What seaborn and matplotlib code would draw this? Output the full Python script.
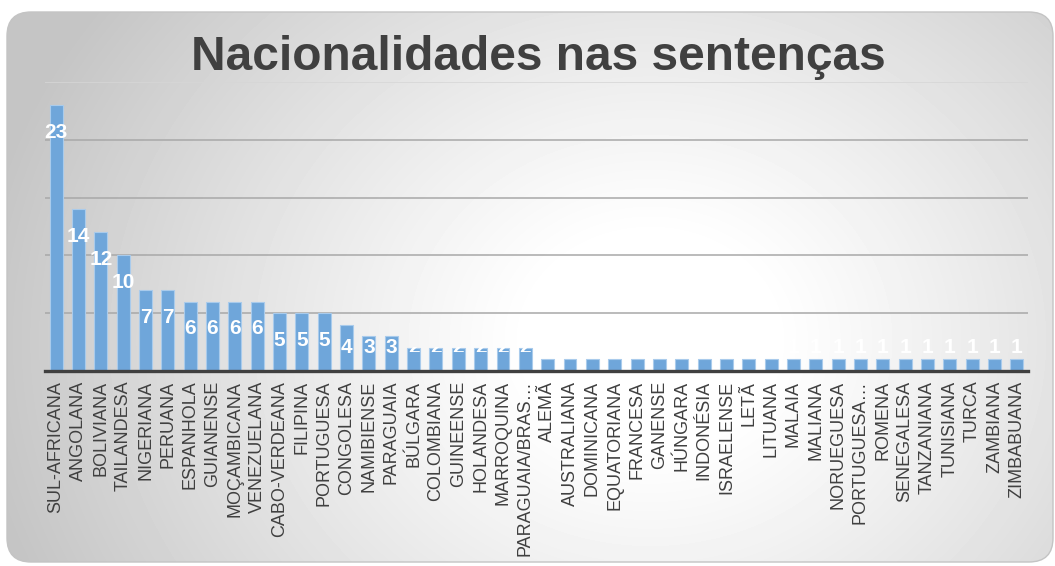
import numpy as np
import pandas as pd
import matplotlib
matplotlib.use('Agg')
import matplotlib.pyplot as plt
import matplotlib.transforms as mtransforms
from matplotlib.patches import FancyBboxPatch
import seaborn as sns

# data
nationalities = ['SUL-AFRICANA', 'ANGOLANA', 'BOLIVIANA', 'TAILANDESA', 'NIGERIANA',
                 'PERUANA', 'ESPANHOLA', 'GUIANENSE', 'MOÇAMBICANA', 'VENEZUELANA',
                 'CABO-VERDEANA', 'FILIPINA', 'PORTUGUESA', 'CONGOLESA', 'NAMIBIENSE',
                 'PARAGUAIA', 'BÚLGARA', 'COLOMBIANA', 'GUINEENSE', 'HOLANDESA',
                 'MARROQUINA', 'PARAGUAIA/BRAS…', 'ALEMÃ', 'AUSTRALIANA', 'DOMINICANA',
                 'EQUATORIANA', 'FRANCESA', 'GANENSE', 'HÚNGARA', 'INDONÉSIA',
                 'ISRAELENSE', 'LETÃ', 'LITUANA', 'MALAIA', 'MALIANA', 'NORUEGUESA',
                 'PORTUGUESA…', 'ROMENA', 'SENEGALESA', 'TANZANIANA', 'TUNISIANA',
                 'TURCA', 'ZAMBIANA', 'ZIMBABUANA']
counts = [23, 14, 12, 10, 7, 7, 6, 6, 6, 6, 5, 5, 5, 4, 3, 3,
          2, 2, 2, 2, 2, 2,
          1, 1, 1, 1, 1, 1, 1, 1, 1, 1, 1, 1, 1, 1, 1, 1, 1, 1, 1, 1, 1, 1]
y_ticks = [5, 10, 15, 20, 25]

df = pd.DataFrame({'nacionalidade': nationalities, 'n': counts})

sns.set_theme(style='white')
plt.rcParams['font.family'] = ['Liberation Sans', 'DejaVu Sans']

W, H = 1055, 566
fig = plt.figure(figsize=(W / 100, H / 100), dpi=100)
fig.patch.set_facecolor('white')

# background card with radial grey gradient
bg = fig.add_axes([0, 0, 1, 1], zorder=-1)
bg.set_xlim(0, W)
bg.set_ylim(H, 0)
bg.axis('off')
xx, yy = np.meshgrid(np.arange(W), np.arange(H))
dist = np.sqrt((xx - 650) ** 2 + ((yy - 340) / 0.85) ** 2)
shade = 1.0 - 0.23 * np.clip((dist - 120) / 560, 0, 1) ** 1.1
img = bg.imshow(shade, cmap='gray', vmin=0, vmax=1, extent=[0, W, H, 0],
                aspect='auto', interpolation='bilinear')
card = FancyBboxPatch((7, 12), 1046, 550, boxstyle='round,pad=0,rounding_size=24',
                      facecolor='none', edgecolor='#c4c4c4', lw=1.0)
bg.add_patch(card)
img.set_clip_path(card)

ax = fig.add_axes([45 / W, 1 - 371 / H, (1028 - 45) / W, (371 - 82) / H])
ax.set_facecolor('none')
sns.barplot(data=df, x='nacionalidade', y='n', color='#6fa6da', width=0.58,
            saturation=1, edgecolor='#a9cbec', linewidth=0.8, ax=ax)

ax.set_xlim(-0.5, len(nationalities) - 0.5)
ax.set_ylim(0, 25)
ax.set_yticks(y_ticks)
ax.set_yticklabels([])
ax.yaxis.grid(True, color='#a8a8a8', lw=1.1)
ax.get_ygridlines()[-1].set_color('#d6d6d6')
ax.set_axisbelow(True)
for s in ['left', 'right', 'top']:
    ax.spines[s].set_visible(False)
ax.spines['bottom'].set_color('#404040')
ax.spines['bottom'].set_linewidth(2.4)
ax.spines['bottom'].set_zorder(5)
ax.set_xlabel('')
ax.set_ylabel('')
ax.tick_params(axis='x', length=0, pad=7, labelsize=13, labelcolor='#404040')
ax.tick_params(axis='y', length=0)
plt.setp(ax.get_xticklabels(), rotation=90, va='top', ha='center')

# data labels (white, inside end; small bars pushed up)
for i, v in enumerate(counts):
    t = ax.annotate(str(v), xy=(i, max(v, 4.4)), xytext=(0, -19.5),
                    textcoords='offset points', ha='center', va='center',
                    color='white', fontsize=15, fontweight='bold', zorder=6)
    if v == 2:
        # these labels only show a sliver at the bar top in the reference
        clip = mtransforms.TransformedBbox(
            mtransforms.Bbox([[i - 0.5, 1.68], [i + 0.5, 2.05]]), ax.transData)
        t.set_clip_box(clip)
        t.set_clip_on(True)

fig.text(538 / W, 1 - 57 / H, 'Nacionalidades nas sentenças', ha='center',
         va='center', fontsize=34.5, fontweight='bold', color='#404040')

plt.savefig('out.png', dpi=100)
plt.close()
